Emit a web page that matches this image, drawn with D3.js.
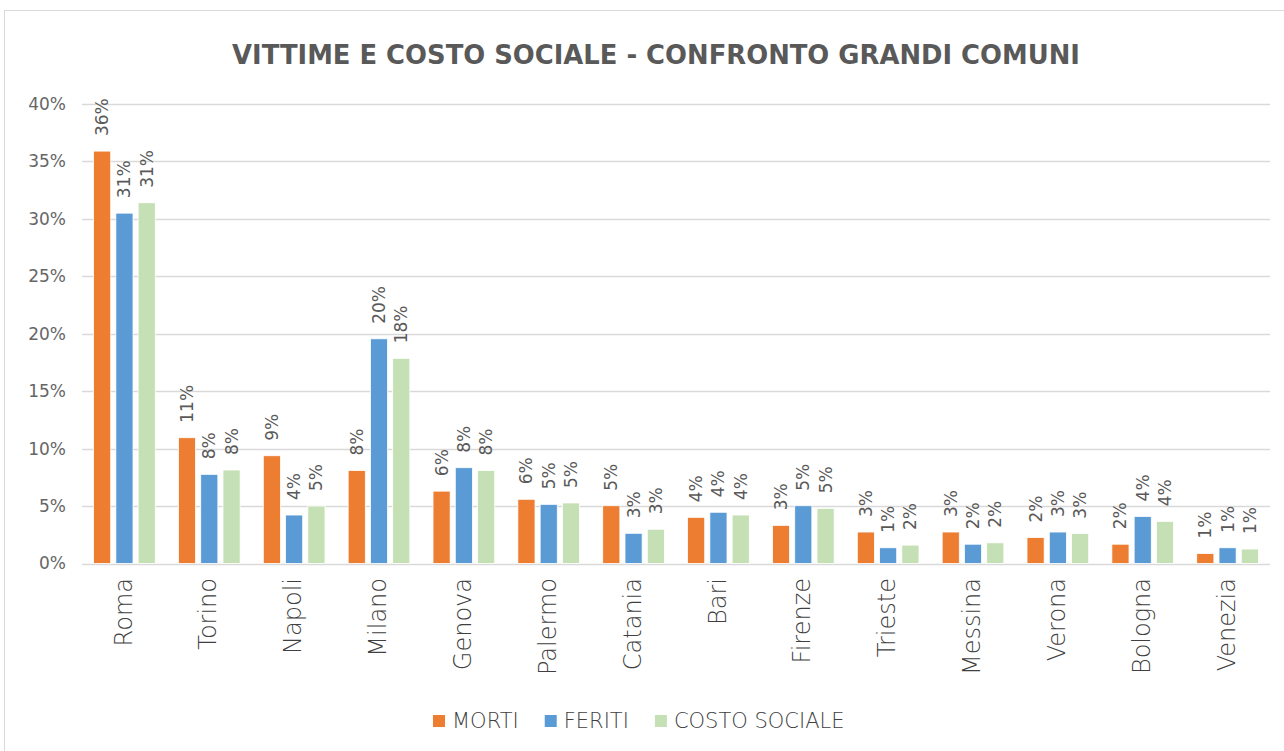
<!DOCTYPE html>
<html>
<head>
<meta charset="utf-8">
<script src="https://cdn.jsdelivr.net/npm/d3@7"></script>
<style>
  body { margin: 0; background: #fff; }
  text { font-family: "DejaVu Sans", sans-serif; fill: #595959; }
</style>
</head>
<body>
<svg id="chart"></svg>
<script>
const comuni = ["Roma", "Torino", "Napoli", "Milano", "Genova", "Palermo", "Catania",
  "Bari", "Firenze", "Trieste", "Messina", "Verona", "Bologna", "Venezia"]
const series = ["MORTI", "FERITI", "COSTO SOCIALE"]
const morti = [35.9, 10.95, 9.38, 8.1, 6.3, 5.59, 5.03, 4.02, 3.32, 2.74, 2.74, 2.26, 1.68, 0.87]
const feriti = [30.5, 7.76, 4.22, 19.56, 8.34, 5.15, 2.63, 4.46, 5.03, 1.37, 1.68, 2.74, 4.1, 1.37]
const costoSociale = [31.4, 8.14, 5.0, 17.86, 8.1, 5.27, 2.98, 4.22, 4.8, 1.6, 1.8, 2.6, 3.67, 1.26]
const yTicks = [0, 5, 10, 15, 20, 25, 30, 35, 40]
const colors = ["#ed7d31", "#5b9bd5", "#c5e0b4"]

const values = [morti, feriti, costoSociale]
const width = 1284, height = 751
const margin = {top: 104, right: 14, bottom: 187, left: 82}

const svg = d3.select("#chart").attr("width", width).attr("height", height)

// frame
svg.append("rect")
  .attr("x", 4.5).attr("y", 10.5)
  .attr("width", width + 20).attr("height", height + 20)
  .attr("fill", "none").attr("stroke", "#d9d9d9")

// title, fitted to the width of the original
let title = svg.append("text")
  .attr("x", 656).attr("y", 64)
  .attr("text-anchor", "middle")
  .style("font-weight", "bold")
  .style("font-size", "26px")
  .text("VITTIME E COSTO SOCIALE - CONFRONTO GRANDI COMUNI")
let tw = title.node().getComputedTextLength()
title.style("font-size", (26 * 848 / tw) + "px")

let x0 = d3.scaleBand()
  .domain(comuni)
  .range([margin.left, width - margin.right])

let x1 = d3.scaleBand()
  .domain(series)
  .range([0, x0.bandwidth()])
  .paddingInner(0.23)
  .paddingOuter(0.52)

let y = d3.scaleLinear()
  .domain([0, 40])
  .range([height - margin.bottom - 0.5, margin.top])

// gridlines
svg.append("g")
  .selectAll("line")
  .data(yTicks).enter()
  .append("line")
  .attr("x1", margin.left).attr("x2", width - margin.right)
  .attr("y1", d => Math.round(y(d)) + 0.5).attr("y2", d => Math.round(y(d)) + 0.5)
  .attr("stroke", "#d9d9d9").attr("stroke-width", 1.3)

let yAxis = svg.append("g")
  .attr("transform", `translate(${margin.left - 16},0)`)
  .call(d3.axisLeft(y).tickValues(yTicks).tickSize(0).tickPadding(0).tickFormat(d => d + "%"))
yAxis.select(".domain").remove()
yAxis.attr("font-family", null).attr("font-size", null)
yAxis.selectAll("text").style("font-size", "17px").style("fill", "#666")

let fmt = d => Math.round(d) + "%"

let groups = svg.append("g")
  .selectAll("g")
  .data(comuni).enter()
  .append("g")
  .attr("transform", d => `translate(${x0(d)},0)`)

let bars = groups.selectAll("g")
  .data((c, i) => series.map((s, j) => ({s: s, j: j, v: values[j][i]})))
  .enter().append("g")

bars.append("rect")
  .attr("x", d => x1(d.s))
  .attr("width", x1.bandwidth())
  .attr("y", d => y(d.v))
  .attr("height", d => y(0) - y(d.v))
  .attr("fill", d => colors[d.j])
  .attr("stroke", "#fff").attr("stroke-width", 0.8)

bars.append("text")
  .attr("transform", d => `translate(${x1(d.s) + x1.bandwidth() / 2},${y(d.v) - 15}) rotate(-90)`)
  .attr("dy", "0.35em")
  .style("font-size", "17px")
  .style("fill", "#595959")
  .text(d => fmt(d.v))

// category labels
svg.append("g")
  .selectAll("text")
  .data(comuni).enter()
  .append("text")
  .attr("transform", d => `translate(${x0(d) + x0.bandwidth() / 2},578) rotate(-90)`)
  .attr("text-anchor", "end")
  .attr("dy", "0.3em")
  .style("font-size", "24px")
  .style("font-weight", 200)
  .style("fill", "#404040")
  .text(d => d)

// legend
let legend = svg.append("g").attr("transform", "translate(0,721)")
let lx = 433
series.forEach((s, j) => {
  legend.append("rect")
    .attr("x", lx).attr("y", -6)
    .attr("width", 12).attr("height", 12)
    .attr("fill", colors[j])
  let t = legend.append("text")
    .attr("x", lx + 19).attr("y", 0)
    .attr("dy", "0.35em")
    .style("font-size", "21px")
    .style("font-weight", 200)
    .style("fill", "#404040")
    .text(s)
  lx += 19 + t.node().getComputedTextLength() + 26
})
</script>
</body>
</html>
